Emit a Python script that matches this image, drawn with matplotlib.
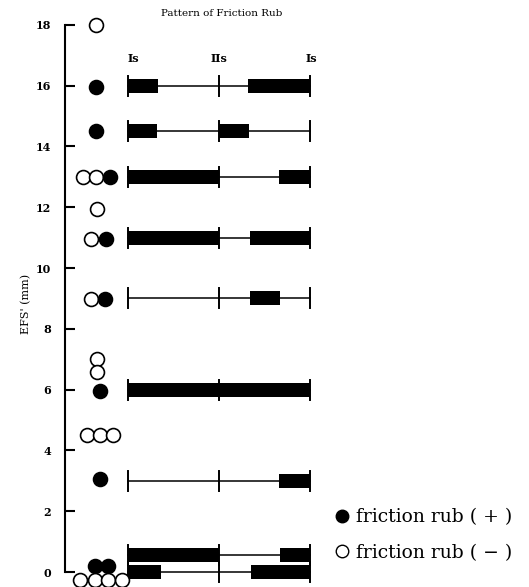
import matplotlib.pyplot as plt
from matplotlib.lines import Line2D

# x: 0 = Is, 1 = IIs, 2 = Is (one cardiac cycle pattern)
row_y = [16, 14.5, 13, 11, 9, 6, 3, 0.55, 0]
row_bars = [
    [(0, 0.33), (1.32, 2)],
    [(0, 0.32), (1.0, 1.33)],
    [(0, 1.0), (1.66, 2)],
    [(0, 1.0), (1.34, 2)],
    [(1.34, 1.67)],
    [(0, 2)],
    [(1.66, 2)],
    [(0, 1.0), (1.67, 2)],
    [(0, 0.36), (1.35, 2)],
]

# dots: EFS value, horizontal slot, friction rub present
dot_y = [18, 15.95, 14.5, 13, 13, 13, 11.94, 10.95, 10.95, 8.98, 8.98,
         7.0, 6.58, 5.95, 4.5, 4.5, 4.5, 3.06, 0.2, 0.2,
         -0.26, -0.26, -0.26, -0.26]
dot_x = [-0.352, -0.352, -0.352, -0.495, -0.352, -0.198, -0.341, -0.407, -0.242,
         -0.407, -0.253, -0.341, -0.341, -0.308, -0.451, -0.308, -0.165, -0.308,
         -0.363, -0.220, -0.527, -0.363, -0.220, -0.066]
dot_fill = [0, 1, 1, 0, 0, 1, 0, 0, 1, 0, 1, 0, 0, 1, 0, 0, 0, 1, 1, 1, 0, 0, 0, 0]

yticks = [0, 2, 4, 6, 8, 10, 12, 14, 16, 18]

plt.rcParams['font.family'] = ['DejaVu Serif']

fig = plt.figure(figsize=(5.29, 5.87), dpi=100)
ax = fig.add_axes([65/529, 0, 265/529, 567/587])
ax.set_xlim(-0.692, 2.220)
ax.set_ylim(-0.493, 18.158)

for y, bars in zip(row_y, row_bars):
    ax.plot([0, 2], [y, y], color='black', linewidth=1.1, zorder=2)
    for xt in [0, 1, 2]:
        ax.plot([xt, xt], [y - 0.33, y + 0.33], color='black', linewidth=1.4, zorder=2)
    for x0, x1 in bars:
        ax.fill_between([x0, x1], y - 0.23, y + 0.23, color='black', linewidth=0, zorder=3)

for x, y, f in zip(dot_x, dot_y, dot_fill):
    ax.plot(x, y, 'o', markersize=10, markeredgewidth=1.2, markeredgecolor='black',
            markerfacecolor='black' if f else 'white', zorder=4, clip_on=False)

ax.text(0.0, 16.9, 'Is', fontsize=8, fontweight='bold', ha='left', va='center')
ax.text(1.0, 16.9, 'IIs', fontsize=8, fontweight='bold', ha='center', va='center')
ax.text(2.02, 16.9, 'Is', fontsize=8, fontweight='bold', ha='center', va='center')

ax.spines['top'].set_visible(False)
ax.spines['right'].set_visible(False)
ax.spines['bottom'].set_visible(False)
ax.spines['left'].set_bounds(0, 18)
ax.spines['left'].set_linewidth(1.5)
ax.set_xticks([])
ax.set_yticks(yticks)
ax.tick_params(axis='y', direction='in', length=7, width=1.5, labelsize=8, pad=10)
for lab in ax.get_yticklabels():
    lab.set_fontweight('bold')
ax.set_ylabel("EFS' (mm)", fontsize=8, labelpad=3)

fig.text(222/529, 1 - 14/587, 'Pattern of Friction Rub', fontsize=7.5,
         ha='center', va='center')

handles = [
    Line2D([], [], marker='o', linestyle='none', markersize=9, markerfacecolor='black',
           markeredgecolor='black', label='friction rub ( + )'),
    Line2D([], [], marker='o', linestyle='none', markersize=9, markerfacecolor='white',
           markeredgecolor='black', label='friction rub ( − )'),
]
fig.legend(handles=handles, loc='center left', bbox_to_anchor=(316/529, 1 - 535/587),
           frameon=False, fontsize=13.5, handletextpad=0.25, labelspacing=0.95,
           handlelength=1.0)

fig.savefig('out.png', dpi=100)
